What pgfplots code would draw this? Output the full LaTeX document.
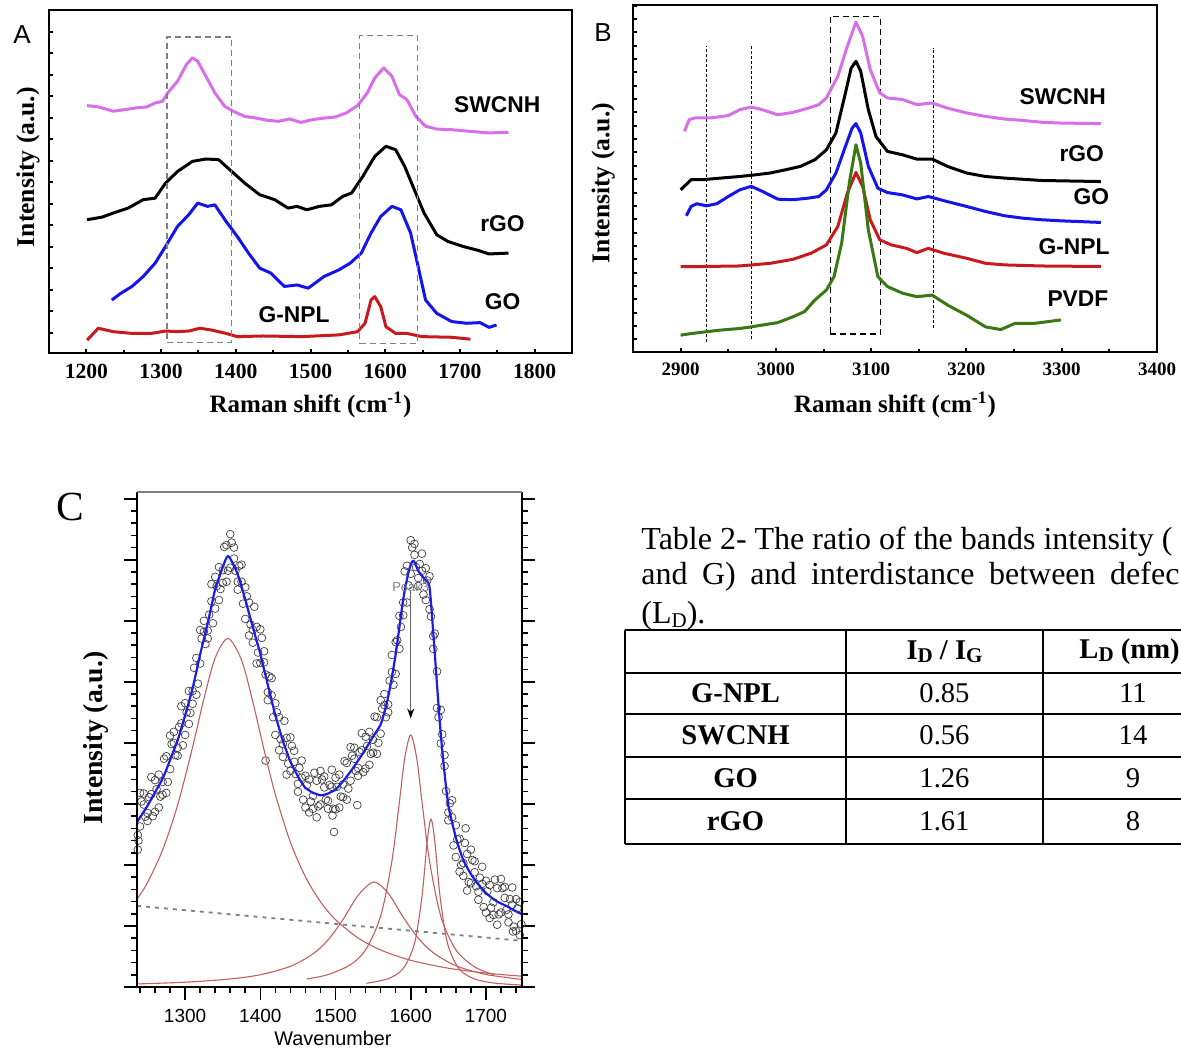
\documentclass[border=0pt]{standalone}
\usepackage{fontspec}
\setmainfont{Liberation Serif}
\newfontfamily\arial{Liberation Sans}
\usepackage{pgfplots}
\pgfplotsset{compat=1.18}
\usetikzlibrary{arrows.meta}
\definecolor{swc}{RGB}{214,112,232}
\definecolor{gob}{RGB}{20,20,235}
\definecolor{gnr}{RGB}{200,25,30}
\definecolor{pvg}{RGB}{58,120,20}
\definecolor{fitb}{RGB}{30,30,225}
\definecolor{comp}{RGB}{195,95,95}
\newcommand\sub[1]{\raisebox{-0.12em}{\fontsize{10.5}{12}\selectfont #1}}
\tikzset{lab/.style={font=\arial\bfseries\fontsize{11.4}{13}\selectfont}}
\pgfplotsset{
  panelAB/.style={scale only axis, anchor=south west,
    axis line style={line width=1.3pt},
    tick align=inside, xtick pos=bottom, ytick pos=left,
    major tick length=2.2pt, minor tick length=1.6pt,
    tick style={line width=1pt, black},
    yticklabels={}, clip=false,
    every axis plot/.append style={line width=1.5pt, line join=round},
  },
}
\begin{document}
\begin{tikzpicture}[x=1pt,y=1pt]
\path[use as bounding box] (0,0) rectangle (590.5,524.5);
\begin{scope}
\clip (0,0) rectangle (590.5,524.5);
% ---------------- Panel A ----------------
\begin{axis}[panelAB, at={(24.5pt,348pt)}, width=261.5pt, height=171.5pt,
  xmin=1150, xmax=1850, ymin=-0.93, ymax=15.0,
  xtick={1200,1300,...,1800}, xticklabels={1200,1300,1400,1500,1600,1700,1800},
  minor xtick={1250,1350,...,1750},
  ytick={0,...,14},
  xticklabel style={font=\fontsize{10.8}{12}\selectfont\bfseries, yshift=-2pt},
  xlabel={Raman shift (cm\textsuperscript{-1})},
  ylabel={Intensity (a.u.)},
  x label style={at={(axis description cs:0.5,-0.152)}, anchor=center, font=\fontsize{12.5}{14}\selectfont\bfseries},
  y label style={at={(axis description cs:-0.040,0.542)}, anchor=center, font=\fontsize{12.8}{14}\selectfont\bfseries},
]
\addplot[swc] coordinates {(1201,10.56)(1216,10.5)(1236,10.3)(1251,10.37)(1266,10.45)(1281,10.5)(1292,10.68)(1302,10.76)(1309,11.15)(1322,11.69)(1334,12.47)(1342,12.78)(1349,12.62)(1360,11.92)(1372,11.15)(1385,10.53)(1397,10.29)(1412,10.06)(1427,9.98)(1442,9.88)(1457,9.83)(1472,9.94)(1487,9.78)(1503,9.91)(1518,9.98)(1533,10.03)(1548,10.22)(1563,10.56)(1576,11.15)(1586,11.84)(1598,12.31)(1609,11.92)(1619,11.07)(1629,10.84)(1641,10.06)(1654,9.6)(1669,9.47)(1689,9.44)(1714,9.36)(1739,9.29)(1765,9.32)};
\addplot[black] coordinates {(1201,5.26)(1221,5.38)(1236,5.57)(1256,5.8)(1276,6.19)(1292,6.26)(1306,6.96)(1322,7.5)(1342,7.97)(1360,8.08)(1377,8.05)(1392,7.58)(1412,6.96)(1432,6.42)(1452,6.19)(1470,5.8)(1482,5.88)(1495,5.72)(1512,5.88)(1528,5.95)(1543,6.34)(1555,6.5)(1570,7.27)(1586,8.2)(1601,8.67)(1614,8.51)(1626,7.74)(1639,6.65)(1652,5.57)(1669,4.56)(1684,4.25)(1704,4.02)(1725,3.83)(1739,3.67)(1765,3.71)};
\addplot[gob] coordinates {(1234,1.53)(1246,1.84)(1261,2.16)(1276,2.62)(1292,3.24)(1306,4.02)(1322,4.95)(1337,5.49)(1349,6.03)(1362,5.88)(1372,5.95)(1387,5.18)(1402,4.48)(1417,3.71)(1432,3.01)(1447,2.78)(1465,2.16)(1482,2.23)(1497,2.08)(1518,2.62)(1538,2.93)(1553,3.24)(1568,3.71)(1581,4.64)(1594,5.41)(1609,5.88)(1621,5.72)(1634,4.64)(1644,3.09)(1654,1.53)(1669,0.91)(1689,0.53)(1709,0.45)(1727,0.48)(1739,0.26)(1749,0.37)};
\addplot[gnr] coordinates {(1201,-0.33)(1216,0.22)(1236,0.06)(1261,-0.02)(1287,-0.02)(1306,0.09)(1322,0.06)(1337,0.09)(1352,0.22)(1367,0.14)(1387,-0.02)(1402,-0.17)(1437,-0.14)(1488,-0.17)(1538,-0.09)(1563,0.06)(1573,0.45)(1581,1.53)(1586,1.69)(1594,1.22)(1601,0.29)(1614,-0.02)(1629,-0.02)(1649,-0.17)(1689,-0.2)(1714,-0.29)};
\addplot[gray, densely dashed, line width=0.6pt] coordinates {(1308,-0.43)(1394,-0.43)(1394,13.75)(1308,13.75)(1308,-0.43)};
\addplot[gray, densely dashed, line width=0.6pt] coordinates {(1566,-0.48)(1643,-0.48)(1643,13.81)(1566,13.81)(1566,-0.48)};
\node[lab] at (axis cs:1750,10.6) {SWCNH};
\node[lab] at (axis cs:1757,5.1) {rGO};
\node[lab] at (axis cs:1757,1.46) {GO};
\node[lab] at (axis cs:1478,0.84) {G-NPL};
\end{axis}
\node[font=\arial\fontsize{13}{15}\selectfont] at (11,507) {A};
% ---------------- Panel B ----------------
\begin{axis}[panelAB, at={(316.5pt,348.5pt)}, width=262pt, height=173.5pt,
  xmin=2850, xmax=3400, ymin=-0.97, ymax=12.02,
  xtick={2900,3000,...,3400}, xticklabels={2900,3000,3100,3200,3300,3400},
  minor xtick={2950,3050,...,3350},
  ytick={-0.5,0,...,12},
  xticklabel style={font=\fontsize{9.5}{11}\selectfont\bfseries, yshift=-2pt},
  xlabel={Raman shift (cm\textsuperscript{-1})},
  ylabel={Intensity (a.u.)},
  x label style={at={(axis description cs:0.5,-0.153)}, anchor=center, font=\fontsize{12.5}{14}\selectfont\bfseries},
  y label style={at={(axis description cs:-0.057,0.487)}, anchor=center, font=\fontsize{12.8}{14}\selectfont\bfseries},
]
\addplot[black, densely dotted, line width=0.6pt] coordinates {(2927,-0.59)(2927,10.48)};
\addplot[black, densely dotted, line width=0.6pt] coordinates {(2974,-0.5)(2974,10.5)};
\addplot[black, densely dotted, line width=0.6pt] coordinates {(3165,-0.09)(3165,10.4)};
\addplot[black, densely dashed, line width=0.6pt] coordinates {(3057,-0.3)(3110,-0.3)(3110,11.6)(3057,11.6)(3057,-0.3)};
\addplot[swc] coordinates {(2904,7.29)(2909,7.73)(2915,7.79)(2931,7.79)(2950,7.88)(2962,8.1)(2974,8.2)(2986,8.1)(3002,7.91)(3018,8.0)(3034,8.16)(3045,8.29)(3053,8.54)(3065,9.35)(3075,10.48)(3084,11.38)(3091,10.85)(3099,9.6)(3109,8.73)(3117,8.54)(3133,8.48)(3148,8.29)(3164,8.35)(3180,8.16)(3200,7.98)(3220,7.85)(3240,7.75)(3259,7.7)(3279,7.63)(3299,7.6)(3341,7.58)};
\addplot[black] coordinates {(2900,5.1)(2911,5.48)(2923,5.48)(2942,5.54)(2962,5.6)(2978,5.66)(2994,5.73)(3010,5.85)(3026,5.98)(3041,6.23)(3053,6.6)(3063,7.23)(3073,8.73)(3079,9.66)(3084,9.91)(3089,9.54)(3097,8.1)(3105,7.1)(3117,6.54)(3133,6.41)(3148,6.25)(3164,6.25)(3180,5.98)(3200,5.73)(3220,5.6)(3240,5.54)(3279,5.45)(3341,5.41)};
\addplot[gob] coordinates {(2906,4.13)(2911,4.48)(2917,4.58)(2927,4.5)(2938,4.58)(2950,4.85)(2962,5.1)(2974,5.23)(2986,5.04)(3002,4.75)(3018,4.73)(3034,4.79)(3045,4.85)(3053,5.1)(3063,5.73)(3073,6.73)(3080,7.41)(3084,7.58)(3089,7.23)(3097,5.98)(3107,5.16)(3117,5.0)(3133,4.91)(3148,4.76)(3160,4.85)(3180,4.66)(3200,4.48)(3220,4.29)(3240,4.13)(3259,4.04)(3279,3.98)(3299,3.94)(3341,3.88)};
\addplot[gnr] coordinates {(2900,2.23)(2923,2.23)(2962,2.25)(2994,2.35)(3018,2.5)(3037,2.73)(3053,3.04)(3065,3.73)(3075,4.98)(3084,5.75)(3091,5.23)(3099,3.98)(3109,3.23)(3121,3.04)(3137,2.91)(3148,2.75)(3160,2.91)(3176,2.73)(3200,2.54)(3220,2.35)(3240,2.29)(3279,2.25)(3341,2.23)};
\addplot[pvg] coordinates {(2900,-0.34)(2911,-0.28)(2927,-0.21)(2942,-0.15)(2962,-0.09)(2974,-0.03)(2986,0.04)(3002,0.13)(3018,0.35)(3030,0.54)(3041,0.98)(3053,1.35)(3061,1.85)(3069,3.1)(3077,5.35)(3084,6.79)(3089,6.1)(3097,3.6)(3107,1.85)(3117,1.48)(3133,1.23)(3148,1.1)(3164,1.16)(3180,0.79)(3200,0.41)(3220,-0.03)(3236,-0.13)(3251,0.1)(3271,0.1)(3299,0.23)};
\node[lab] at (axis cs:3301,8.6) {SWCNH};
\node[lab] at (axis cs:3321,6.45) {rGO};
\node[lab] at (axis cs:3331,4.85) {GO};
\node[lab] at (axis cs:3313,2.98) {G-NPL};
\node[lab] at (axis cs:3317,1.04) {PVDF};
\end{axis}
\node[font=\arial\fontsize{13}{15}\selectfont] at (301.5,508) {B};
% ---------------- Panel C ----------------
\begin{axis}[scale only axis, anchor=south west, at={(68.5pt,31pt)}, width=192.5pt, height=247.5pt,
  xmin=1236, xmax=1748, ymin=0, ymax=8.11,
  axis line style={draw=none}, clip mode=individual,
  xtick={1300,1400,...,1700}, xticklabels={1300,1400,1500,1600,1700},
  minor xtick={1240,1260,...,1740},
  ytick={0,...,8}, minor ytick={0,0.2,...,8.1}, yticklabels={},
  xtick pos=bottom, ytick pos=both, tick align=outside,
  major tick length=6.5pt, minor tick length=3.2pt,
  tick style={line width=0.8pt, black},
  xticklabel style={font=\arial\fontsize{9.5}{11}\selectfont, yshift=-1pt},
  xlabel={Wavenumber}, ylabel={Intensity (a.u.)},
  x label style={at={(axis description cs:0.509,-0.103)}, anchor=center, font=\arial\fontsize{9.9}{11}\selectfont},
  y label style={at={(axis description cs:-0.106,0.503)}, anchor=center, font=\fontsize{13.8}{15}\selectfont\bfseries},
]
\addplot[only marks, mark=o, mark size=1.95pt, mark options={line width=0.35pt, draw=black!75}] coordinates {
(1235,2.91)(1240,2.63)(1245,3.17)(1250,2.72)(1255,3.16)(1260,2.87)(1265,3.48)(1270,3.36)(1275,3.78)(1280,3.57)(1285,4.18)(1290,3.79)(1295,4.32)(1300,4.13)(1305,4.85)(1310,4.85)(1315,5.39)(1320,5.30)(1325,6.00)(1330,5.71)(1335,6.32)(1340,6.20)(1345,6.88)(1350,6.83)(1355,7.24)(1360,6.87)(1365,7.20)(1370,6.51)(1375,6.64)(1380,6.03)(1385,6.30)(1390,5.85)(1395,5.90)(1400,5.31)(1405,5.50)(1410,4.70)(1415,4.78)(1420,4.13)(1425,4.42)(1430,3.98)(1435,4.08)(1440,3.54)(1445,3.87)(1450,3.20)(1455,3.43)(1460,2.94)(1465,3.40)(1470,3.13)(1475,3.38)(1480,2.99)(1485,3.45)(1490,2.92)(1495,3.28)(1500,2.91)(1505,3.48)(1510,3.32)(1515,3.67)(1520,3.38)(1525,3.92)(1530,3.46)(1535,3.88)(1540,3.58)(1545,4.18)(1550,4.05)(1555,4.42)(1560,4.15)(1565,4.80)(1570,4.50)(1575,5.16)(1580,5.13)(1585,6.08)(1590,6.30)(1595,6.90)(1600,6.77)(1605,7.26)(1610,6.57)(1615,6.82)(1620,6.34)(1625,6.73)(1630,5.75)(1635,5.17)(1640,3.99)(1645,3.80)(1650,2.73)(1655,2.78)(1660,2.13)(1665,2.43)(1670,2.03)(1675,2.18)(1680,1.70)(1685,2.06)(1690,1.43)(1695,1.69)(1700,1.22)(1705,1.67)(1710,1.39)(1715,1.62)(1720,1.22)(1725,1.64)(1730,1.06)(1735,1.35)(1740,0.92)(1745,1.39)
(1237,2.49)(1242,3.04)(1247,2.79)(1252,3.11)(1257,2.80)(1262,3.24)(1267,3.12)(1272,3.74)(1277,3.36)(1282,3.98)(1287,3.80)(1292,4.26)(1297,3.96)(1302,4.50)(1307,4.49)(1312,5.23)(1317,4.97)(1322,5.71)(1327,5.62)(1332,6.10)(1337,5.96)(1342,6.57)(1347,6.52)(1352,7.21)(1357,6.82)(1362,7.28)(1367,6.82)(1372,6.90)(1377,6.28)(1382,6.40)(1387,5.94)(1392,6.23)(1397,5.48)(1402,5.72)(1407,5.12)(1412,5.09)(1417,4.42)(1422,4.50)(1427,4.06)(1432,4.36)(1437,3.66)(1442,3.95)(1447,3.49)(1452,3.59)(1457,3.07)(1462,3.31)(1467,3.04)(1472,3.51)(1477,2.96)(1482,3.40)(1487,3.07)(1492,3.31)(1497,2.92)(1502,3.28)(1507,3.12)(1512,3.70)(1517,3.25)(1522,3.79)(1527,3.54)(1532,3.85)(1537,3.52)(1542,3.95)(1547,3.82)(1552,4.43)(1557,4.00)(1562,4.56)(1567,4.42)(1572,5.02)(1577,4.95)(1582,5.68)(1587,5.90)(1592,6.81)(1597,6.58)(1602,7.20)(1607,6.88)(1612,6.93)(1617,6.43)(1622,6.66)(1627,6.07)(1632,5.79)(1637,4.42)(1642,4.14)(1647,3.21)(1652,3.01)(1657,2.32)(1662,2.42)(1667,2.00)(1672,2.36)(1677,1.72)(1682,2.08)(1687,1.65)(1692,1.79)(1697,1.31)(1702,1.57)(1707,1.30)(1712,1.76)(1717,1.19)(1722,1.62)(1727,1.26)(1732,1.44)(1737,0.99)(1742,1.29)(1747,1.03)
(1235,2.31)(1240,3.18)(1245,2.99)(1250,2.85)(1255,3.44)(1260,3.39)(1265,2.94)(1270,3.15)(1275,3.18)(1280,4.12)(1285,4.00)(1290,3.92)(1295,4.60)(1300,4.65)(1305,4.31)(1310,4.64)(1315,4.79)(1320,5.85)(1325,5.82)(1330,5.84)(1335,6.60)(1340,6.72)(1345,6.34)(1350,6.62)(1355,6.64)(1360,7.42)(1365,7.02)(1370,6.64)(1375,6.92)(1380,6.55)(1385,5.76)(1390,5.64)(1395,5.30)(1400,5.86)(1405,5.32)(1410,4.83)(1415,5.06)(1420,4.65)(1425,3.88)(1430,3.77)(1435,3.48)(1440,4.09)(1445,3.69)(1450,3.33)(1455,3.71)(1460,3.46)(1465,2.86)(1470,2.92)(1475,2.78)(1480,3.54)(1485,3.27)(1490,3.05)(1495,3.56)(1500,3.43)(1505,2.94)(1510,3.11)(1515,3.07)(1520,3.93)(1525,3.74)(1530,3.59)(1535,4.16)(1540,4.10)(1545,3.64)(1550,3.84)(1555,3.82)(1560,4.70)(1565,4.62)(1570,4.63)(1575,5.44)(1580,5.65)(1585,5.54)(1590,6.09)(1595,6.30)(1600,7.32)(1605,7.08)(1610,6.70)(1615,7.10)(1620,6.86)(1625,6.19)(1630,5.54)(1635,4.57)(1640,4.54)(1645,3.62)(1650,2.86)(1655,3.06)(1660,2.65)(1665,1.89)(1670,1.82)(1675,1.58)(1680,2.25)(1685,1.88)(1690,1.56)(1695,1.97)(1700,1.74)(1705,1.13)(1710,1.18)(1715,1.02)(1720,1.77)(1725,1.46)(1730,1.19)(1735,1.63)(1740,1.44)(1745,0.85)
(1407,3.71)(1529,2.98)(1496,2.81)(1498,2.54)(1736,0.91)(1673,2.60)(1238,2.40)(1237,2.25)};
\addplot[gray, line width=0.9pt, dash pattern=on 2pt off 2.5pt] coordinates {(1236,1.33)(1745,0.76)};
\addplot[comp, line width=0.55pt, smooth] coordinates {(1236,1.44)(1250,1.711)(1270,2.244)(1290,2.980)(1310,3.935)(1325,4.723)(1340,5.392)(1357,5.71)(1375,5.356)(1390,4.673)(1405,3.884)(1420,3.155)(1440,2.373)(1460,1.804)(1480,1.397)(1500,1.104)(1530,0.803)(1560,0.607)(1600,0.4375)(1650,0.308)(1700,0.228)(1748,0.177)};
\addplot[comp, line width=0.55pt, smooth] coordinates {(1236,0.05)(1300,0.0788)(1360,0.1317)(1400,0.2015)(1440,0.339)(1470,0.543)(1490,0.771)(1510,1.105)(1530,1.501)(1551,1.72)(1570,1.537)(1590,1.144)(1610,0.80)(1630,0.5615)(1660,0.349)(1700,0.206)(1748,0.124)};
\addplot[comp, line width=0.55pt, smooth] coordinates {(1462,0.131)(1490,0.203)(1520,0.367)(1540,0.611)(1560,1.160)(1575,2.065)(1585,3.037)(1592,3.746)(1600,4.13)(1608,3.746)(1615,3.037)(1625,2.065)(1640,1.160)(1660,0.611)(1685,0.329)(1711,0.199)};
\addplot[comp, line width=0.55pt, smooth] coordinates {(1541,0.0614)(1570,0.136)(1590,0.302)(1605,0.712)(1615,1.485)(1622,2.395)(1627,2.75)(1632,2.395)(1639,1.485)(1649,0.712)(1664,0.302)(1684,0.136)(1710,0.0659)(1748,0.0314)};
\addplot[fitb, line width=1.1pt, smooth] coordinates {(1236,2.70)(1240,2.78)(1245,2.87)(1250,2.97)(1255,3.08)(1260,3.19)(1265,3.30)(1270,3.41)(1275,3.56)(1280,3.72)(1285,3.88)(1290,4.04)(1295,4.24)(1300,4.45)(1305,4.67)(1310,4.90)(1315,5.17)(1320,5.45)(1325,5.70)(1330,5.96)(1335,6.24)(1340,6.52)(1345,6.70)(1350,6.88)(1357,7.06)(1365,6.90)(1370,6.76)(1375,6.56)(1380,6.35)(1385,6.12)(1390,5.90)(1395,5.68)(1400,5.46)(1405,5.20)(1410,4.95)(1415,4.70)(1420,4.45)(1425,4.24)(1430,4.03)(1435,3.86)(1440,3.69)(1445,3.57)(1450,3.45)(1455,3.35)(1460,3.26)(1465,3.22)(1470,3.18)(1475,3.16)(1480,3.14)(1485,3.15)(1490,3.17)(1495,3.20)(1500,3.23)(1505,3.30)(1510,3.37)(1515,3.45)(1520,3.53)(1525,3.62)(1530,3.71)(1535,3.80)(1540,3.90)(1545,4.00)(1550,4.10)(1555,4.20)(1560,4.30)(1565,4.50)(1570,4.75)(1575,5.08)(1580,5.45)(1585,5.90)(1590,6.35)(1595,6.68)(1600,6.92)(1604,6.98)(1610,6.82)(1615,6.74)(1620,6.66)(1625,6.55)(1630,5.80)(1635,4.95)(1640,4.14)(1645,3.50)(1650,2.98)(1655,2.70)(1660,2.45)(1665,2.25)(1670,2.08)(1675,1.96)(1680,1.85)(1685,1.76)(1690,1.68)(1695,1.61)(1700,1.54)(1705,1.49)(1710,1.44)(1715,1.40)(1720,1.37)(1725,1.34)(1730,1.31)(1735,1.27)(1740,1.24)(1745,1.21)(1748,1.19)};
\addplot[gray!80!black, line width=0.7pt, -{Stealth[black, length=5pt, width=3.5pt]}] coordinates {(1600,6.48)(1600,4.40)};
\node[font=\arial\fontsize{6.5}{7}\selectfont, text=gray] at (axis cs:1600,6.56) {Peak3};
\draw[line width=1.2pt] (rel axis cs:0,1) -- (rel axis cs:0,0) -- (rel axis cs:1,0) -- (rel axis cs:1,1);
\draw[gray, line width=0.6pt] (rel axis cs:0,1) -- (rel axis cs:1,1);
\end{axis}
\node[font=\fontsize{20.7}{22}\selectfont] at (35,271) {C};
% ---------------- Table ----------------
\node[anchor=base west, inner sep=0] at (320.5,249.5) {\fontsize{16}{18}\selectfont Table 2- The ratio of the bands intensity (};
\node[anchor=base west, inner sep=0] at (320.5,232) {\fontsize{16}{18}\selectfont\hbox to 269pt{and G) and interdistance between defec}};
\node[anchor=base west, inner sep=0] at (320.5,212.5) {\fontsize{16}{18}\selectfont (L\sub{D}).};
\foreach \yy in {209.5,188,167.5,146,125,102.5} {\draw[line width=0.9pt] (312.5,\yy) -- (600,\yy);}
\foreach \xx in {312.5,423,521.5} {\draw[line width=0.9pt] (\xx,209.5) -- (\xx,102.5);}
\begin{scope}[every node/.style={font=\fontsize{14.3}{16}\selectfont, anchor=center}]
\node at (472.25,198.75) {\textbf{I\sub{D} / I\sub{G}}};
\node[anchor=east, inner sep=0.5pt] at (590.5,198.75) {\textbf{L\sub{D} (nm)}};
\node at (367.75,177.75) {\textbf{G-NPL}};
\node at (367.75,156.75) {\textbf{SWCNH}};
\node at (367.75,135.5) {\textbf{GO}};
\node at (367.75,113.75) {\textbf{rGO}};
\node at (472.25,177.75) {0.85};
\node at (472.25,156.75) {0.56};
\node at (472.25,135.5) {1.26};
\node at (472.25,113.75) {1.61};
\node at (566.5,177.75) {11};
\node at (566.5,156.75) {14};
\node at (566.5,135.5) {9};
\node at (566.5,113.75) {8};
\end{scope}
\end{scope}
\end{tikzpicture}
\end{document}
